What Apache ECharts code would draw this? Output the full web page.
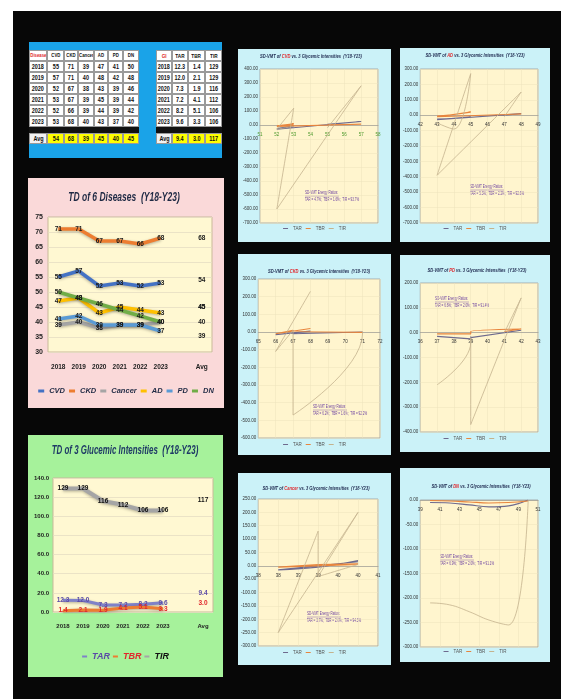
<!DOCTYPE html>
<html><head><meta charset="utf-8">
<script src="https://cdn.jsdelivr.net/npm/echarts@6/dist/echarts.min.js"></script>
<style>
body{margin:0;width:561px;height:699px;position:relative;overflow:hidden;background:#fff;font-family:'Liberation Sans',Arial,sans-serif}
.abs{position:absolute}
.cell{position:absolute;box-sizing:border-box;border:0.5px solid #9a9a9a;background:#fff;font-size:7px;font-weight:bold;color:#111;display:flex;align-items:center;justify-content:center;line-height:1;overflow:hidden}
.cell span{display:inline-block;transform:scaleX(0.78);white-space:nowrap}
</style></head><body>
<div class="abs" style="left:13px;top:11px;width:548px;height:688px;background:#070707"></div>
<div class="abs" id="tbl" style="left:29px;top:42px;width:193px;height:116px;background:#1AA3E8"></div>
<div class="abs" id="c1" style="left:28px;top:178px;width:196px;height:230px"></div>
<div class="abs" id="c2" style="left:28px;top:435px;width:195px;height:242px"></div>
<div class="abs" id="s1" style="left:238px;top:49px;width:153px;height:193px"></div>
<div class="abs" id="s2" style="left:400px;top:48px;width:150px;height:194px"></div>
<div class="abs" id="s3" style="left:238px;top:254px;width:153px;height:201px"></div>
<div class="abs" id="s4" style="left:400px;top:255px;width:150px;height:197px"></div>
<div class="abs" id="s5" style="left:238px;top:473px;width:153px;height:192px"></div>
<div class="abs" id="s6" style="left:400px;top:468px;width:150px;height:194px"></div>
<script>
// ---------- DATA ----------
const years = ['2018','2019','2020','2021','2022','2023'];
const cats = ['2018','2019','2020','2021','2022','2023','','Avg'];
const diseases = ['CVD','CKD','Cancer','AD','PD','DN'];
const cvd    = [55,57,52,53,52,53];
const ckd    = [71,71,67,67,66,68];
const cancer = [39,40,38,39,39,40];
const ad     = [47,48,43,45,44,43];
const pd     = [41,42,39,39,39,37];
const dn     = [50,48,46,44,42,40];
const diseaseAvg = [54,68,39,45,40,45];
const giNames = ['TAR','TBR','TIR'];
const tar = [12.3,12.0,7.3,7.2,8.2,9.6];
const tbr = [1.4,2.1,1.9,4.1,5.1,3.3];
const tir = [129,129,116,112,106,106];
const giAvg = [9.4,3.0,117];

// SD-VMT y-values per year (x = disease values)
const sdCvdTAR = [5,25,-30,-10,-25,-5];
const sdCvdTBR = [2,5,-10,8,-5,3];
const sdCvdTIR = [-20,280,-600,120,-30,-10];
const sdAdTAR = [0,10,-30,-10,-20,-25];
const sdAdTBR = [5,8,-10,20,5,-5];
const sdAdTIR = [-10,150,-390,270,-90,-50];
const sdCkdTAR = [0,2,-10,-5,-15,5];
const sdCkdTBR = [-2,0,5,10,-10,20];
const sdCkdTIR = [0,-5,-470,10,-110,230];
const sdPdTAR = [0,10,-20,-15,-25,-15];
const sdPdTBR = [5,15,5,0,-5,-5];
const sdPdTIR = [0,140,-370,-20,-40,-210];
const sdCancerTAR = [0,15,-15,-5,-5,20];
const sdCancerTBR = [2,5,-5,5,3,8];
const sdCancerTIR = [-40,200,-250,130,-40,5];
const sdDnTAR = [0,-12,-14,-10,-6,-5];
const sdDnTBR = [-2,-5,-6,-4,-2,-1];
const sdDnTIR = [0,-255,-245,-228,-214,-210];
const ratioTexts = {
  CVD:'TAR = 4.7%;  TBR = 1.6%;  TIR = 93.7%',
  AD:'TAR = 5.3%;  TBR = 2.2%;  TIR = 92.6%',
  CKD:'TAR = 6.2%;  TBR = 1.6%;  TIR = 92.2%',
  PD:'TAR = 6.6%;  TBR = 2.0%;  TIR = 91.4%',
  Cancer:'TAR = 3.7%;  TBR = 2.0%;  TIR = 94.3%',
  DN:'TAR = 6.9%;  TBR = 2.0%;  TIR = 91.1%'
};

const FONT = "'Liberation Sans',Arial,sans-serif";

// ---------- TABLE ----------
(function(){
  const t = document.getElementById('tbl');
  const L = [0,18,35,49,65,79,94,110];
  const R = [127,143,159,176,193];
  const rowsY = [8,19,30,41,52,63,74,85];
  const add = (x0,x1,y0,y1,txt,extra)=>{
    const d=document.createElement('div'); d.className='cell';
    d.style.left=x0+'px'; d.style.top=y0+'px'; d.style.width=(x1-x0)+'px'; d.style.height=(y1-y0)+'px';
    const s=document.createElement('span'); s.textContent=txt; d.appendChild(s);
    if(extra) Object.assign(d.style,extra); t.appendChild(d);
  };
  const dv=[cvd,ckd,cancer,ad,pd,dn];
  const gv=[tar,tbr,tir];
  add(L[0],L[1],rowsY[0],rowsY[1],'Disease',{color:'#E0262B',fontSize:'5.5px'});
  diseases.forEach((d,i)=>add(L[i+1],L[i+2],rowsY[0],rowsY[1],d,{fontSize:'5.5px'}));
  add(R[0],R[1],rowsY[0],rowsY[1],'GI',{color:'#E0262B',fontSize:'6px'});
  giNames.forEach((g,i)=>add(R[i+1],R[i+2],rowsY[0],rowsY[1],g,{fontSize:'6px'}));
  years.forEach((y,r)=>{
    add(L[0],L[1],rowsY[r+1],rowsY[r+2],y);
    dv.forEach((a,i)=>add(L[i+1],L[i+2],rowsY[r+1],rowsY[r+2],String(a[r])));
    add(R[0],R[1],rowsY[r+1],rowsY[r+2],y);
    gv.forEach((a,i)=>add(R[i+1],R[i+2],rowsY[r+1],rowsY[r+2],i<2?a[r].toFixed(1):String(a[r])));
  });
  const b1=document.createElement('div'); Object.assign(b1.style,{position:'absolute',left:'0px',top:'85px',width:'110px',height:'6px',background:'#111'}); t.appendChild(b1);
  const b2=document.createElement('div'); Object.assign(b2.style,{position:'absolute',left:'127px',top:'85px',width:'66px',height:'6px',background:'#111'}); t.appendChild(b2);
  add(L[0],L[1],91,102,'Avg',{background:'#f2f2f2'});
  diseaseAvg.forEach((v,i)=>add(L[i+1],L[i+2],91,102,String(v),{background:'#FFFF00'}));
  add(R[0],R[1],91,102,'Avg',{background:'#f2f2f2'});
  giAvg.forEach((v,i)=>add(R[i+1],R[i+2],91,102,i<2?v.toFixed(1):String(v),{background:'#FFFF00'}));
})();

// ---------- CHART 1 ----------
(function(){
  const ch = echarts.init(document.getElementById('c1'));
  const vals=[cvd,ckd,cancer,ad,pd,dn];
  const colors=['#4472C4','#ED7D31','#A5A5A5','#FFC000','#5B9BD5','#70AD47'];
  const avgOffsets=[[0,0],[0,0],[0,11],[0,0],[0,0],[0,0]];
  ch.setOption({
    backgroundColor:'#FAD9D9', animation:false,
    graphic:[{type:'text',x:96,y:20,scaleX:0.68,
      style:{text:'TD of 6 Diseases  (Y18-Y23)',font:'italic bold 12.5px '+FONT,fill:'#1F2A44',align:'center',verticalAlign:'middle'}}],
    grid:{left:20,right:12,top:39,bottom:56,show:true,backgroundColor:'#FFF8D2',borderColor:'#C9B99A',borderWidth:1},
    xAxis:{type:'category',data:cats,axisLine:{show:false},axisTick:{show:false},
      axisLabel:{fontFamily:FONT,fontSize:6.5,fontWeight:'bold',color:'#222',margin:12,interval:0}},
    yAxis:{type:'value',min:30,max:75,interval:5,axisLine:{show:false},axisTick:{show:false},
      axisLabel:{fontFamily:FONT,fontSize:7,fontWeight:'bold',color:'#222',margin:5},
      splitLine:{lineStyle:{color:'#E6DDC3',width:0.8}}},
    legend:{bottom:8,left:'center',icon:'rect',itemWidth:6,itemHeight:3,itemGap:4,
      textStyle:{fontFamily:FONT,fontSize:7.5,fontWeight:'bold',fontStyle:'italic',color:'#1F2A44'}},
    series:diseases.map((d,i)=>({
      name:d,type:'line',symbol:'circle',symbolSize:1,
      data:[...vals[i],null,{value:diseaseAvg[i],itemStyle:{color:'rgba(0,0,0,0)'},label:{offset:avgOffsets[i]}}],
      lineStyle:{color:colors[i],width:3.5,shadowBlur:3,shadowColor:'rgba(0,0,0,0.3)',shadowOffsetY:1},
      itemStyle:{color:colors[i]},
      label:{show:true,position:'inside',fontFamily:FONT,fontSize:6.5,fontWeight:'bold',color:'#1a1a1a'}
    }))
  });
})();

// ---------- CHART 2 ----------
(function(){
  const ch = echarts.init(document.getElementById('c2'));
  const vals=[tar,tbr,tir];
  const colors=['#7F82C8','#ED7D31','#A5A5A5'];
  const labelColors=['#5B4BA6','#E0262B','#111'];
  const avgOffsets=[[0,-10],[0,-6],[0,0]];
  ch.setOption({
    backgroundColor:'#A6F29B', animation:false,
    graphic:[{type:'text',x:97,y:16,scaleX:0.66,
      style:{text:'TD of 3 Glucemic Intensities  (Y18-Y23)',font:'italic bold 12px '+FONT,fill:'#1F3A66',align:'center',verticalAlign:'middle'}}],
    grid:{left:25,right:10,top:43,bottom:65,show:true,backgroundColor:'#FFF8D2',borderColor:'#C9B99A',borderWidth:1},
    xAxis:{type:'category',data:cats,axisLine:{show:false},axisTick:{show:false},
      axisLabel:{fontFamily:FONT,fontSize:6,fontWeight:'bold',color:'#222',margin:11,interval:0}},
    yAxis:{type:'value',min:0,max:140,interval:20,axisLine:{show:false},axisTick:{show:false},
      axisLabel:{fontFamily:FONT,fontSize:6,fontWeight:'bold',color:'#222',margin:4,formatter:v=>v.toFixed(1)},
      splitLine:{lineStyle:{color:'#E6DDC3',width:0.8}}},
    legend:{bottom:11,left:'center',icon:'rect',itemWidth:5,itemHeight:2,itemGap:3,
      data:giNames.map((g,i)=>({name:g,textStyle:{color:labelColors[i]}})),
      textStyle:{fontFamily:FONT,fontSize:9,fontWeight:'bold',fontStyle:'italic'}},
    series:giNames.map((g,i)=>({
      name:g,type:'line',symbol:'circle',symbolSize:1,
      data:[...vals[i],null,{value:giAvg[i],itemStyle:{color:'rgba(0,0,0,0)'},label:{offset:avgOffsets[i]}}],
      lineStyle:{color:colors[i],width:i===2?4:3,shadowBlur:3,shadowColor:'rgba(0,0,0,0.3)',shadowOffsetY:1},
      itemStyle:{color:colors[i]},
      label:{show:true,position:'inside',fontFamily:FONT,fontSize:6.5,fontWeight:'bold',color:labelColors[i],
        formatter:p=>i<2?Number(p.value).toFixed(1):String(p.value)}
    }))
  });
})();

// ---------- SD-VMT CHARTS ----------
function sd(id,c){
  const el = document.getElementById(id);
  const ch = echarts.init(el);
  const mk = ys=>c.x.map((x,i)=>[x,ys[i]]);
  const tx = c.ratio[0], ty = c.ratio[1];
  const plotH = el.clientHeight - c.grid.top - c.grid.bottom;
  const zeroUp = plotH * (0 - c.yMin) / (c.yMax - c.yMin);
  const rs = {fontFamily:FONT,fontSize:5.5,fontWeight:'bold',fontStyle:'italic'};
  ch.setOption({
    backgroundColor:'#CBF2F8', animation:false,
    grid:Object.assign({show:true,backgroundColor:'#FFF5CE',borderColor:'#9C9C9C',borderWidth:0.8},c.grid),
    xAxis:{type:'value',min:c.xMin,max:c.xMax,interval:c.xInt,offset:-zeroUp,
      axisLine:{onZero:false,lineStyle:{color:'#8C8C8C',width:0.6}},axisTick:{show:false},
      axisLabel:{fontFamily:FONT,fontSize:4.5,color:c.xColor,margin:7,showMinLabel:true,showMaxLabel:true,formatter:c.xFmt||(v=>String(v))},
      splitLine:{show:true,lineStyle:{color:'#ECE2BC',width:0.5}}},
    yAxis:{type:'value',min:c.yMin,max:c.yMax,interval:c.yInt,axisLine:{show:false},axisTick:{show:false},
      axisLabel:{fontFamily:FONT,fontSize:4.5,color:'#333',margin:2,formatter:v=>v.toFixed(2)},
      splitLine:{lineStyle:{color:'#ECE2BC',width:0.5}}},
    legend:{bottom:c.legBottom,left:'center',icon:'rect',itemWidth:5,itemHeight:1,itemGap:4,
      textStyle:{fontFamily:FONT,fontSize:4.5,color:'#555'}},
    series:[
      {name:'TAR',type:'line',smooth:0.4,showSymbol:false,data:mk(c.tar),lineStyle:{color:'#6E6A8E',width:1.1},itemStyle:{color:'#6E6A8E'}},
      {name:'TBR',type:'line',smooth:0.4,showSymbol:false,data:mk(c.tbr),lineStyle:{color:'#E8853D',width:1.1},itemStyle:{color:'#E8853D'}},
      {name:'TIR',type:'line',smooth:0.45,showSymbol:false,data:mk(c.tir),lineStyle:{color:'#C4B38E',width:0.8},itemStyle:{color:'#C4B38E'}}
    ],
    graphic:[
      {type:'text',x:c.title[0],y:c.title[1],scaleX:0.74,
        style:{text:'{a|SD-VMT of }{r|'+c.name+'}{a| vs. 3 Glycemic Intensities  (Y18-Y23)}',align:'center',verticalAlign:'middle',
          rich:{a:Object.assign({fill:'#1F2A50'},rs),r:Object.assign({fill:'#E0262B'},rs)}}},
      {type:'text',x:tx,y:ty,scaleX:0.62,style:{text:'SD-VMT Energy Ratios:',fill:'#6A3FA0',font:'5px '+FONT,align:'left',verticalAlign:'middle'}},
      {type:'line',shape:{x1:tx,y1:ty+3,x2:tx+34,y2:ty+3},style:{stroke:'#6A3FA0',lineWidth:0.4}},
      {type:'text',x:tx,y:ty+7,scaleX:0.6,style:{text:ratioTexts[c.name],fill:'#6A3FA0',font:'5px '+FONT,align:'left',verticalAlign:'middle'}}
    ]
  });
}
sd('s1',{name:'CVD',x:cvd,tar:sdCvdTAR,tbr:sdCvdTBR,tir:sdCvdTIR,xMin:51,xMax:58,xInt:1,yMin:-700,yMax:400,yInt:100,
  grid:{left:22,right:13,top:20,bottom:19},xColor:'#4E9A2E',title:[73,7],legBottom:6,ratio:[67,144]});
sd('s2',{name:'AD',x:ad,tar:sdAdTAR,tbr:sdAdTBR,tir:sdAdTIR,xMin:42,xMax:49,xInt:1,yMin:-700,yMax:300,yInt:100,
  grid:{left:17,right:12,top:21,bottom:19},xColor:'#333',title:[75,7],legBottom:6,ratio:[70,139]});
sd('s3',{name:'CKD',x:ckd,tar:sdCkdTAR,tbr:sdCkdTBR,tir:sdCkdTIR,xMin:65,xMax:72,xInt:1,yMin:-600,yMax:300,yInt:100,
  grid:{left:18,right:11,top:25,bottom:17},xColor:'#333',title:[81,17],legBottom:3,ratio:[75,153]});
sd('s4',{name:'PD',x:pd,tar:sdPdTAR,tbr:sdPdTBR,tir:sdPdTIR,xMin:36,xMax:43,xInt:1,yMin:-400,yMax:200,yInt:100,
  grid:{left:18,right:12,top:28,bottom:20},xColor:'#333',title:[77,15],legBottom:6,ratio:[35,44]});
sd('s5',{name:'Cancer',x:cancer,tar:sdCancerTAR,tbr:sdCancerTBR,tir:sdCancerTIR,xMin:37.5,xMax:40.5,xInt:0.5,yMin:-300,yMax:250,yInt:50,
  grid:{left:19,right:13,top:26,bottom:19},xColor:'#333',title:[78,15],legBottom:5,ratio:[69,141],xFmt:v=>String(Math.round(v))});
sd('s6',{name:'DN',x:dn,tar:sdDnTAR,tbr:sdDnTBR,tir:sdDnTIR,xMin:39,xMax:51,xInt:2,yMin:-300,yMax:0,yInt:50,
  grid:{left:18,right:12,top:32,bottom:15},xColor:'#333',title:[81,18],legBottom:3,ratio:[40,89]});
</script>
</body></html>
